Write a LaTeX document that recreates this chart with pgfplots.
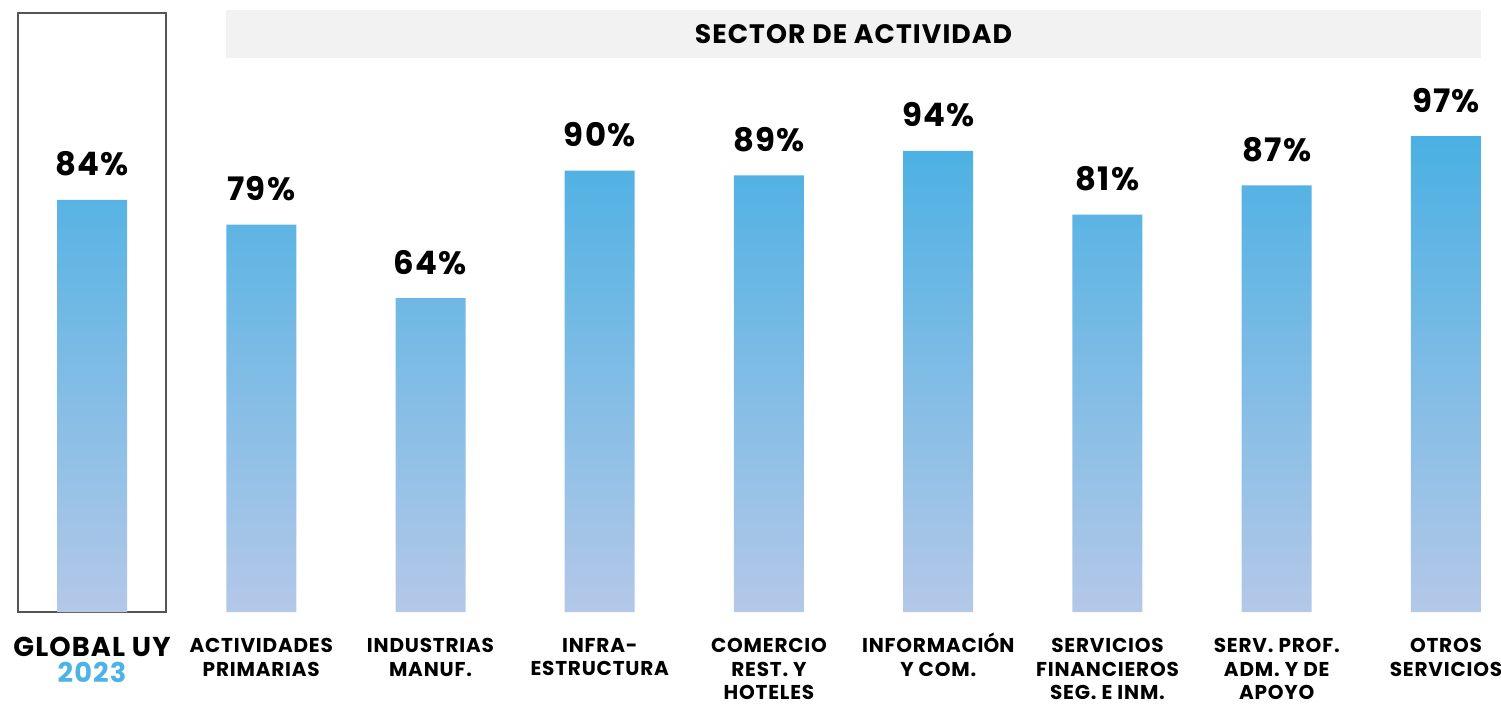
\documentclass[border=0pt]{standalone}
\usepackage{fontspec}
\setmainfont{Poppins}[LetterSpace=4]
\usepackage{pgfplots}
\pgfplotsset{compat=1.18}
\definecolor{bartop}{RGB}{74,176,227}
\definecolor{barbot}{RGB}{180,200,232}
\definecolor{yearblue}{RGB}{77,179,230}
\definecolor{bannergray}{RGB}{242,242,242}
\definecolor{boxgray}{RGB}{85,85,85}
\begin{document}
\begin{tikzpicture}
\begin{axis}[
  scale only axis, width=15.01cm, height=6.12cm,
  xmin=-0.5436, xmax=8.325, ymin=0, ymax=124.77,
  axis line style={draw=none}, tick style={draw=none},
  ytick=\empty, xtick=data, clip=false,
  xticklabels={{},
    {ACTIVIDADES\\PRIMARIAS},
    {INDUSTRIAS\\MANUF.},
    {INFRA-\\ESTRUCTURA},
    {COMERCIO\\REST. Y\\HOTELES},
    {INFORMACI\smash{Ó}N\\Y COM.},
    {SERVICIOS\\FINANCIEROS\\SEG. E INM.},
    {SERV. PROF.\\ADM. Y DE\\APOYO},
    {OTROS\\SERVICIOS}},
  xticklabel style={align=center, anchor=north, inner sep=0pt, yshift=-2.6mm,
    font=\fontsize{5.7}{6.6}\selectfont\bfseries},
  /pgf/number format/assume math mode=true,
]
\fill[bannergray] (axis cs:0.792,112.95) rectangle (axis cs:8.207,122.73);
\node[font=\fontsize{7.6}{8}\selectfont\bfseries, inner sep=0pt] at (axis cs:4.499,117.84) {SECTOR DE ACTIVIDAD};
\draw[boxgray, line width=0.15mm] (axis cs:-0.437,0) rectangle (axis cs:0.437,122.1);
\addplot[ybar, bar width=7mm, draw=none, top color=bartop, bottom color=barbot,
  nodes near coords={\pgfmathprintnumber[fixed,precision=0]{\pgfplotspointmeta}\%},
  every node near coord/.append style={anchor=south, inner sep=0pt, yshift=2.3mm,
    font=\fontsize{9.2}{10}\selectfont\bfseries, text=black}]
coordinates {(0,84) (1,79) (2,64) (3,90) (4,89) (5,94) (6,81) (7,87) (8,97)};
\node[align=center, anchor=north, inner sep=0pt, yshift=-2.4mm,
  font=\fontsize{7.75}{7.4}\selectfont\bfseries] at (axis cs:0,0)
  {GLOBAL UY\\\textcolor{yearblue}{2023}};
\end{axis}
\pgfresetboundingbox
\path (0,-0.91) rectangle (15.01,6.12);
\end{tikzpicture}
\end{document}
